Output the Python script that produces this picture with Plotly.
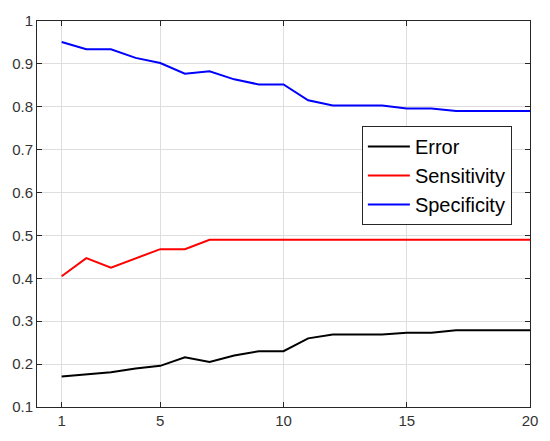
import plotly.graph_objects as go

x = list(range(1, 21))
error = [0.171, 0.176, 0.181, 0.190, 0.196, 0.216, 0.205, 0.220, 0.230, 0.230,
         0.260, 0.269, 0.269, 0.269, 0.273, 0.273, 0.279, 0.279, 0.279, 0.279]
sensitivity = [0.405, 0.447, 0.425, 0.446, 0.468, 0.468, 0.490, 0.490, 0.490, 0.490,
               0.490, 0.490, 0.490, 0.490, 0.490, 0.490, 0.490, 0.490, 0.490, 0.490]
specificity = [0.951, 0.934, 0.934, 0.914, 0.902, 0.877, 0.883, 0.864, 0.852, 0.852,
               0.815, 0.803, 0.803, 0.803, 0.796, 0.796, 0.790, 0.790, 0.790, 0.790]
x_ticks = [1, 5, 10, 15, 20]

fig = go.Figure()
for name, ys, col in [("Error", error, "#000000"),
                      ("Sensitivity", sensitivity, "#FF0000"),
                      ("Specificity", specificity, "#0000FF")]:
    fig.add_trace(go.Scatter(x=x, y=ys, mode="lines", name=name,
                             line=dict(color=col, width=2)))

axis_common = dict(showline=True, linecolor="#262626", linewidth=1, mirror="ticks",
                   ticks="inside", ticklen=5, tickcolor="#262626",
                   showgrid=True, gridcolor="#DEDEDE", gridwidth=1, zeroline=False,
                   tickfont=dict(family="Liberation Sans, Arial", size=15, color="#333333"))

fig.update_xaxes(range=[0, 20], tickvals=x_ticks, **axis_common)
fig.update_yaxes(range=[0.1, 1], dtick=0.1, tick0=0.1, **axis_common)

fig.update_layout(
    width=550, height=441,
    margin=dict(l=37, r=16, t=15, b=34),
    plot_bgcolor="white", paper_bgcolor="white",
    legend=dict(x=0.659, y=0.728, xanchor="left", yanchor="top",
                bordercolor="#262626", borderwidth=1, bgcolor="white",
                font=dict(family="Liberation Sans, Arial", size=20, color="#000000"),
                tracegroupgap=0, itemwidth=42),
    showlegend=True,
)

fig.write_html("out.html", config={"displayModeBar": False},
               post_script="document.body.style.margin='0';document.body.style.overflow='hidden';")
